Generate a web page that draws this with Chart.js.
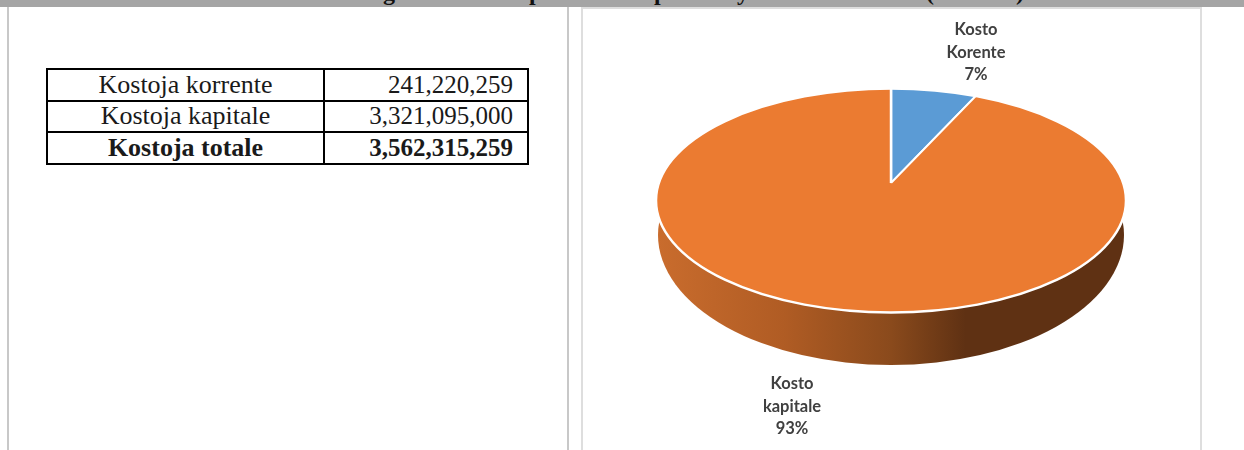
<!DOCTYPE html>
<html>
<head>
<meta charset="utf-8">
<script src="https://cdn.jsdelivr.net/npm/chart.js@4"></script>
<style>
    html, body { margin: 0; padding: 0; background: #fff; }
    #page { position: relative; width: 1244px; height: 450px; overflow: hidden; background: #fff; }
    #chart { position: absolute; left: 0; top: 0; }
    .band { position: absolute; left: 0; top: 0; width: 1244px; height: 7px; background: #a5a5a5; overflow: hidden; }
    .band span { position: absolute; top: -20px; font: bold 24px/24px "Liberation Serif", serif; color: #111; }
    .rule { position: absolute; width: 2px; top: 7px; bottom: 0; background: #c8c8c8; }
    .frame { position: absolute; left: 581px; top: 7px; width: 617px; height: 443px; border: 2px solid #dedede; border-bottom: 0; box-sizing: content-box; }
    table { position: absolute; left: 46px; top: 68px; width: 483px; height: 97px; border-collapse: collapse; table-layout: fixed;
            font: 26px/26px "Liberation Serif", serif; color: #1a1a1a; }
    td { border: 2px solid #000; padding: 0; height: 29.6px; text-align: center; }
    td.num { text-align: right; padding-right: 14px; font-size: 25px; }
    tr.total td { font-weight: bold; }
</style>
</head>
<body>
<div id="page">
    <div class="rule" style="left:7px"></div>
    <div class="rule" style="left:567px"></div>
    <div class="frame"></div>
    <div class="band" id="band"></div>
    <table id="costTable"><colgroup><col style="width:277px"><col></colgroup><tbody></tbody></table>
    <canvas id="chart" width="1244" height="450"></canvas>
</div>
<script>
// 표 데이터
const rowLabels = ['Kostoja korrente', 'Kostoja kapitale', 'Kostoja totale'];
const rowValues = ['241,220,259', '3,321,095,000', '3,562,315,259'];

// 파이 데이터
const categories = ['Kosto Korente', 'Kosto kapitale'];
const costValues = [241220259, 3321095000];
const sliceColors = ['#5b9bd5', '#eb7b31'];
const labelLines = [['Kosto', 'Korente', '7%'], ['Kosto', 'kapitale', '93%']];

// 위쪽 띠에 잘려서 보이는 제목 글자
const bandGlyphs = ['g', 'p', 'p', 'y', '(', ')'];
const bandGlyphX = [383, 529, 654, 737, 926, 1016];

// 표 그리기
document.querySelector('#costTable tbody').innerHTML = rowLabels.map((label, i) => `
    <tr class="${i === 2 ? 'total' : ''}"><td>${label}</td><td class="num">${rowValues[i]}</td></tr>
`).join('');

document.getElementById('band').innerHTML = bandGlyphs.map((g, i) =>
    `<span style="left:${bandGlyphX[i]}px">${g}</span>`
).join('');

// 타원 모양 (윗면, 옆면)
const face = { x: 891, y: 200.5, rx: 235, ry: 112 };
const wall = { x: 891, y: 235, rx: 233, ry: 130 };
const tilt = 0.465;
const labelSpots = [{ x: 976, y: 30 }, { x: 792, y: 384 }];

// 3D 파이 플러그인
const tiltedPie = {
    id: 'tiltedPie',
    beforeDatasetsDraw(chart) {
        const ctx = chart.ctx;
        const arc = chart.getDatasetMeta(0).data[0];

        // 옆면
        const grad = ctx.createLinearGradient(wall.x - wall.rx, 0, wall.x + wall.rx, 0);
        grad.addColorStop(0, '#c96c2d');
        grad.addColorStop(0.27, '#b05c24');
        grad.addColorStop(0.5, '#8a4a1c');
        grad.addColorStop(0.66, '#5f3113');
        grad.addColorStop(1, '#5f3113');
        ctx.save();
        ctx.fillStyle = grad;
        ctx.beginPath();
        ctx.ellipse(wall.x, wall.y, wall.rx, wall.ry, 0, 0, Math.PI * 2);
        ctx.fill();
        ctx.restore();

        // 윗면은 타원으로 자르고 세로로 눌러서 그림
        ctx.save();
        ctx.beginPath();
        ctx.ellipse(face.x, face.y, face.rx, face.ry, 0, 0, Math.PI * 2);
        ctx.clip();
        ctx.translate(arc.x, arc.y);
        ctx.scale(1, tilt);
        ctx.translate(-arc.x, -arc.y);
    },
    afterDatasetsDraw(chart) {
        const ctx = chart.ctx;
        ctx.restore();

        // 윗면 테두리
        ctx.save();
        ctx.strokeStyle = '#fff';
        ctx.lineWidth = 2.5;
        ctx.beginPath();
        ctx.ellipse(face.x, face.y, face.rx, face.ry, 0, 0, Math.PI * 2);
        ctx.stroke();

        // 라벨
        ctx.fillStyle = '#404040';
        ctx.font = 'bold 16.5px Lato, sans-serif';
        ctx.textAlign = 'center';
        ctx.textBaseline = 'middle';
        labelLines.forEach((lines, i) => {
            lines.forEach((line, j) => {
                ctx.fillText(line, labelSpots[i].x, labelSpots[i].y + j * 22.5);
            });
        });
        ctx.restore();
    }
};

new Chart(document.getElementById('chart'), {
    type: 'pie',
    data: {
        labels: categories,
        datasets: [{
            data: costValues,
            backgroundColor: sliceColors,
            borderColor: '#fff',
            borderWidth: 2.5
        }]
    },
    options: {
        responsive: false,
        animation: false,
        radius: 290,
        layout: { padding: { left: 538, bottom: 84 } },
        plugins: {
            legend: { display: false },
            tooltip: { enabled: false }
        }
    },
    plugins: [tiltedPie]
});
</script>
</body>
</html>
